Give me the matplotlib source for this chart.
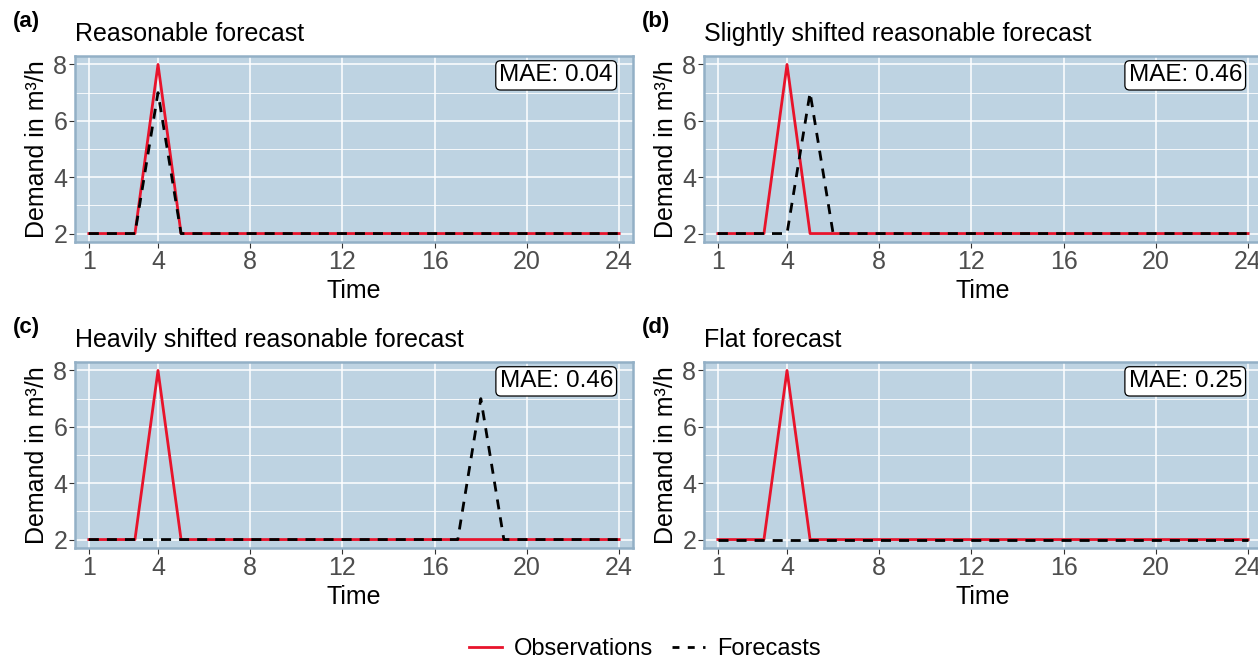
import numpy as np
import matplotlib.pyplot as plt
from matplotlib.lines import Line2D

plt.rcParams['font.family'] = ['Liberation Sans', 'DejaVu Sans']

# hourly demand over one day
time = np.arange(1, 25)
observations = [2, 2, 2, 8] + [2] * 20
fc_reasonable = [2, 2, 2, 7] + [2] * 20
fc_slight = [2, 2, 2, 2, 7] + [2] * 19
fc_heavy = [2] * 17 + [7] + [2] * 6
fc_flat = [2] * 24

panel_tags = ["(a)", "(b)", "(c)", "(d)"]
panel_titles = ["Reasonable forecast",
                "Slightly shifted reasonable forecast",
                "Heavily shifted reasonable forecast",
                "Flat forecast"]
forecasts = [fc_reasonable, fc_slight, fc_heavy, fc_flat]
mae_values = [np.mean(np.abs(np.array(observations) - np.array(f))) for f in forecasts]

x_ticks = [1, 4, 8, 12, 16, 20, 24]
y_ticks = [2, 4, 6, 8]

bg = '#bed3e2'
edge = '#93b0c6'
obs_col = '#e8132b'

fig = plt.figure(figsize=(12.58, 6.61), dpi=100)

W, H = 1258, 661
boxes = [(75, 56), (704, 56), (75, 362), (704, 362)]
aw, ah = 558, 186

for i in range(4):
    left, top = boxes[i]
    ax = fig.add_axes([left / W, 1 - (top + ah) / H, aw / W, ah / H])
    ax.set_facecolor(bg)
    for s in ax.spines.values():
        s.set_color(edge)
        s.set_linewidth(1.8)
    ax.set_xlim(0.4, 24.6)
    ax.set_ylim(1.7, 8.3)
    ax.set_xticks(x_ticks)
    ax.set_yticks(y_ticks)
    ax.set_yticks([3, 5, 7], minor=True)
    ax.grid(True, which='major', color='white', linewidth=1.1)
    ax.grid(True, which='minor', axis='y', color='white', linewidth=0.6)
    ax.set_axisbelow(True)
    ax.tick_params(axis='both', which='major', labelsize=18, labelcolor='#4d4d4d',
                   color='#333333', length=4, width=0.8, pad=1.5)
    ax.tick_params(axis='both', which='minor', length=0)

    ax.plot(time, observations, color=obs_col, lw=2, zorder=3)
    ax.plot(time, forecasts[i], color='black', lw=2, dashes=(3.6, 2.9), zorder=4)

    ax.set_xlabel("Time", fontsize=18, labelpad=4)
    ax.set_ylabel("Demand in m³/h", fontsize=18, labelpad=3)
    ax.set_title(panel_titles[i], loc='left', fontsize=18, pad=11)

    ax.text(0.964, 0.955, f"MAE: {mae_values[i]:.2f}", transform=ax.transAxes,
            ha='right', va='top', fontsize=17.5,
            bbox=dict(boxstyle='round,pad=0.15,rounding_size=0.2', fc='white',
                      ec='black', lw=0.9))

    fig.text((left - 62) / W, 1 - (top - 34) / H, panel_tags[i],
             fontsize=16, fontweight='bold', va='center', ha='left')

handles = [Line2D([], [], color=obs_col, lw=2),
           Line2D([], [], color='black', lw=2, dashes=(2.5, 3))]
fig.legend(handles, ["Observations", "Forecasts"], loc='center',
           bbox_to_anchor=(645 / W, 1 - 649 / H), ncol=2, frameon=False,
           fontsize=17, handlelength=1.4, handletextpad=0.5, columnspacing=0.8)

fig.savefig("out.png", dpi=100)
